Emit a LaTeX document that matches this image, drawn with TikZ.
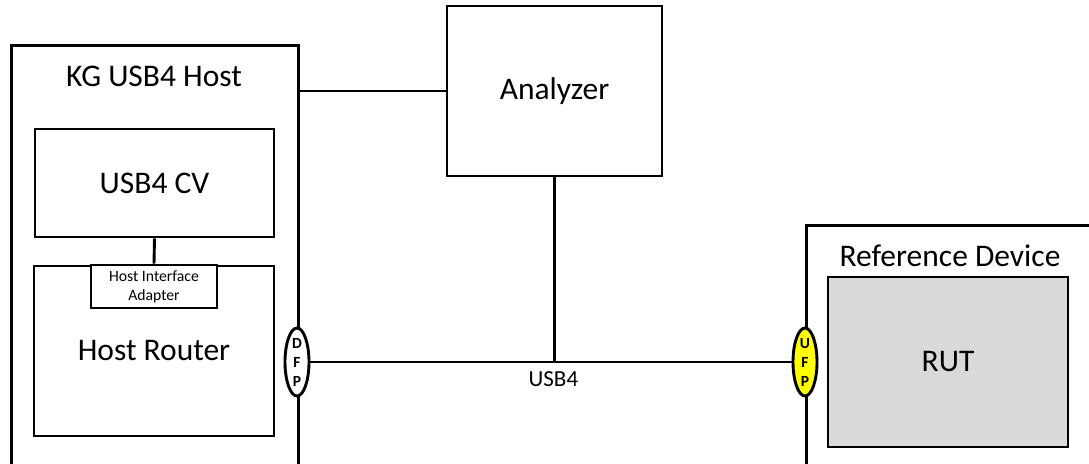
\documentclass[tikz,border=0pt]{standalone}
\usepackage{fontspec}
\setmainfont{Carlito}
\usepackage{tikz}
\usetikzlibrary{positioning,shapes.geometric}

\definecolor{rutgray}{HTML}{D9D9D9}
\definecolor{portyellow}{HTML}{FFFF00}

\tikzset{
  frame/.style={draw, line width=2.9pt, inner sep=0pt},
  port/.style={draw, ellipse, line width=2.9pt, fill=white, inner sep=0pt,
    minimum width=24pt, minimum height=67pt, align=center,
    font=\fontsize{15.5}{19}\selectfont\bfseries},
  big/.style={font=\fontsize{31.5}{36}\selectfont},
  wire/.style={line width=2.9pt}
}

\begin{document}
\begin{tikzpicture}[x=1pt, y=-1pt]
  \useasboundingbox (0,0) rectangle (1089,463);
  % host side
  \node[frame, anchor=north west, minimum width=287pt, minimum height=440pt] (host) at (10,44) {};
  \node[big] (hosttitle) at (154,76) {KG USB4 Host};
  \node[frame, big, minimum width=239pt, minimum height=108pt] (cv) at (154.5,183) {USB4 CV};
  \node[frame, big, minimum width=240pt, minimum height=170pt] (router) at (154,351) {Host Router};
  \node[frame, fill=white, align=center, minimum width=126pt, minimum height=43pt,
    font=\fontsize{15.7}{19}\selectfont] (hia) at (154,286.5) {Host Interface\\Adapter};
  \draw[wire] (cv.south) -- (hia.north);
  % analyzer
  \node[frame, big, minimum width=215pt, minimum height=170pt] (analyzer) at (554.5,91) {Analyzer};
  % reference device side
  \node[frame, anchor=north west, minimum width=300pt, minimum height=260pt] (refdev) at (805,224) {};
  \node[big] (reftitle) at (950,256) {Reference Device};
  \node[frame, big, fill=rutgray, minimum width=240pt, minimum height=170pt] (rut) at (948,362) {RUT};
  % ports and links
  \node[port] (dfp) at (297,362) {D\\F\\P};
  \node[port, fill=portyellow] (ufp) at (805,362) {U\\F\\P};
  \draw[wire] (analyzer.west) -- (analyzer.west -| host.east);
  \draw[wire] (dfp.east) -- (ufp.west) node[pos=0.505, below=5pt, font=\fontsize{23}{26}\selectfont] (usblabel) {USB4};
  \draw[wire] (analyzer.south) -- (analyzer.south |- dfp.east);
\end{tikzpicture}
\end{document}
